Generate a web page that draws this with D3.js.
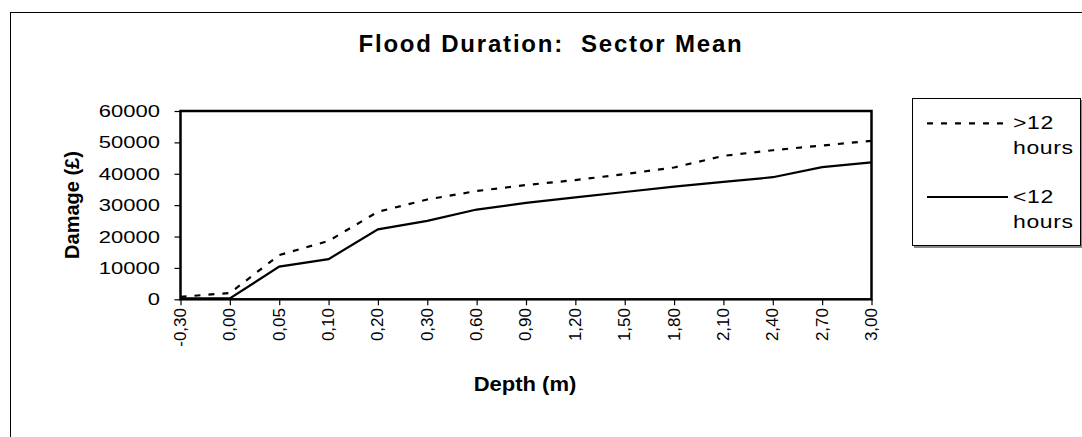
<!DOCTYPE html>
<html>
<head>
<meta charset="utf-8">
<script src="https://cdn.jsdelivr.net/npm/d3@7"></script>
<style>
  body { margin: 0; background: #fff; }
  text { font-family: "Liberation Sans", Arial, sans-serif; fill: #000; white-space: pre; }
</style>
</head>
<body>
<div class="chart"></div>
<script>
// depth categories (x axis), damage values for each flood duration
var depths = ["-0,30", "0,00", "0,05", "0,10", "0,20", "0,30", "0,60", "0,90",
              "1,20", "1,50", "1,80", "2,10", "2,40", "2,70", "3,00"];
var over12 = [800, 2000, 14100, 18600, 27900, 31800, 34500, 36400,
              38000, 39900, 42000, 45700, 47500, 49000, 50500];
var under12 = [300, 300, 10400, 12800, 22300, 25000, 28600, 30700,
               32500, 34200, 35900, 37400, 38900, 42100, 43600];
var yTicks = [0, 10000, 20000, 30000, 40000, 50000, 60000];

var svgWidth = 1082, svgHeight = 437;
var plot = { left: 180.5, right: 871.5, top: 111, bottom: 299.3 };
var squash = 'scale(1,0.78)';   // the picture is squeezed vertically

var svg = d3.select('div.chart')
  .append("svg")
  .attr('width', svgWidth)
  .attr('height', svgHeight);

// outer chart border (runs off the right and bottom edge)
svg.append("rect")
  .attr("x", 10.5).attr("y", 12.5)
  .attr("width", 1100).attr("height", 460)
  .attr("fill", "white")
  .attr("stroke", "black")
  .attr("stroke-width", 1);

var x = d3.scalePoint()
  .domain(depths)
  .range([plot.left, plot.right]);

var y = d3.scaleLinear()
  .domain([0, 60000])
  .range([plot.bottom, plot.top]);

// title
svg.append("text")
  .attr("x", 551).attr("y", 52)
  .attr("text-anchor", "middle")
  .attr("font-size", 24)
  .attr("font-weight", "bold")
  .attr("letter-spacing", 1.8)
  .text("Flood Duration:  Sector Mean");

// y axis
var yAxis = svg.append("g")
  .attr('transform', 'translate(' + plot.left + ',0)')
  .call(d3.axisLeft(y).tickValues(yTicks).tickSize(6));
yAxis.select(".domain").remove();
yAxis.selectAll("line").attr("stroke", "black").attr("stroke-width", 1.2);
yAxis.selectAll("text").remove();

yTicks.forEach(function(t){
  svg.append("text")
    .attr('transform', 'translate(160,' + y(t) + ') ' + squash)
    .attr("dy", "0.35em")
    .attr("text-anchor", "end")
    .attr("font-size", 22)
    .text(t);
});

// x axis
var xAxis = svg.append("g")
  .attr('transform', 'translate(0,' + plot.bottom + ')')
  .call(d3.axisBottom(x).tickSize(6));
xAxis.select(".domain").remove();
xAxis.selectAll("line").attr("stroke", "black").attr("stroke-width", 1.2);
xAxis.selectAll("text").remove();

depths.forEach(function(d){
  svg.append("text")
    .attr('transform', 'translate(' + x(d) + ',308) rotate(-90) scale(1,0.92)')
    .attr("dy", "0.35em")
    .attr("text-anchor", "end")
    .attr("font-size", 17)
    .text(d);
});

// axis titles
svg.append("text")
  .attr('transform', 'translate(79,205) rotate(-90)')
  .attr("text-anchor", "middle")
  .attr("font-size", 20)
  .attr("font-weight", "bold")
  .text("Damage (£)");

svg.append("text")
  .attr('transform', 'translate(525,391) scale(1,0.88)')
  .attr("text-anchor", "middle")
  .attr("font-size", 22)
  .attr("font-weight", "bold")
  .text("Depth (m)");

// lines
var line = d3.line()
  .x(function(d, i){ return x(depths[i]); })
  .y(function(d){ return y(d); });

svg.append("path")
  .datum(over12)
  .attr("d", line)
  .attr("fill", "none")
  .attr("stroke", "black")
  .attr("stroke-width", 2.2)
  .attr("stroke-dasharray", "6,8");

svg.append("path")
  .datum(under12)
  .attr("d", line)
  .attr("fill", "none")
  .attr("stroke", "black")
  .attr("stroke-width", 2.2);

// plot frame
svg.append("rect")
  .attr("x", plot.left).attr("y", plot.top)
  .attr("width", plot.right - plot.left)
  .attr("height", plot.bottom - plot.top)
  .attr("fill", "none")
  .attr("stroke", "black")
  .attr("stroke-width", 2.5);

// legend
var lg = svg.append("g").attr("class", "legend");

lg.append("rect")
  .attr("x", 914).attr("y", 100)
  .attr("width", 170).attr("height", 148)
  .attr("fill", "#888");

lg.append("rect")
  .attr("x", 912.5).attr("y", 98.5)
  .attr("width", 168).attr("height", 147)
  .attr("fill", "white")
  .attr("stroke", "black")
  .attr("stroke-width", 1);

function legendItem(top, dash, label){
  lg.append("line")
    .attr("x1", 927).attr("x2", dash ? 1003 : 1008)
    .attr("y1", top).attr("y2", top)
    .attr("stroke", "black")
    .attr("stroke-width", 2.2)
    .attr("stroke-dasharray", dash ? "6,8" : null);

  lg.append("text")
    .attr('transform', 'translate(1013,' + (top + 6) + ') ' + squash)
    .attr("font-size", 23)
    .attr("letter-spacing", 0.6)
    .text(label);

  lg.append("text")
    .attr('transform', 'translate(1013,' + (top + 31) + ') ' + squash)
    .attr("font-size", 23)
    .attr("letter-spacing", 0.6)
    .text("hours");
}

legendItem(123.3, true, ">12");
legendItem(197, false, "<12");
</script>
</body>
</html>
